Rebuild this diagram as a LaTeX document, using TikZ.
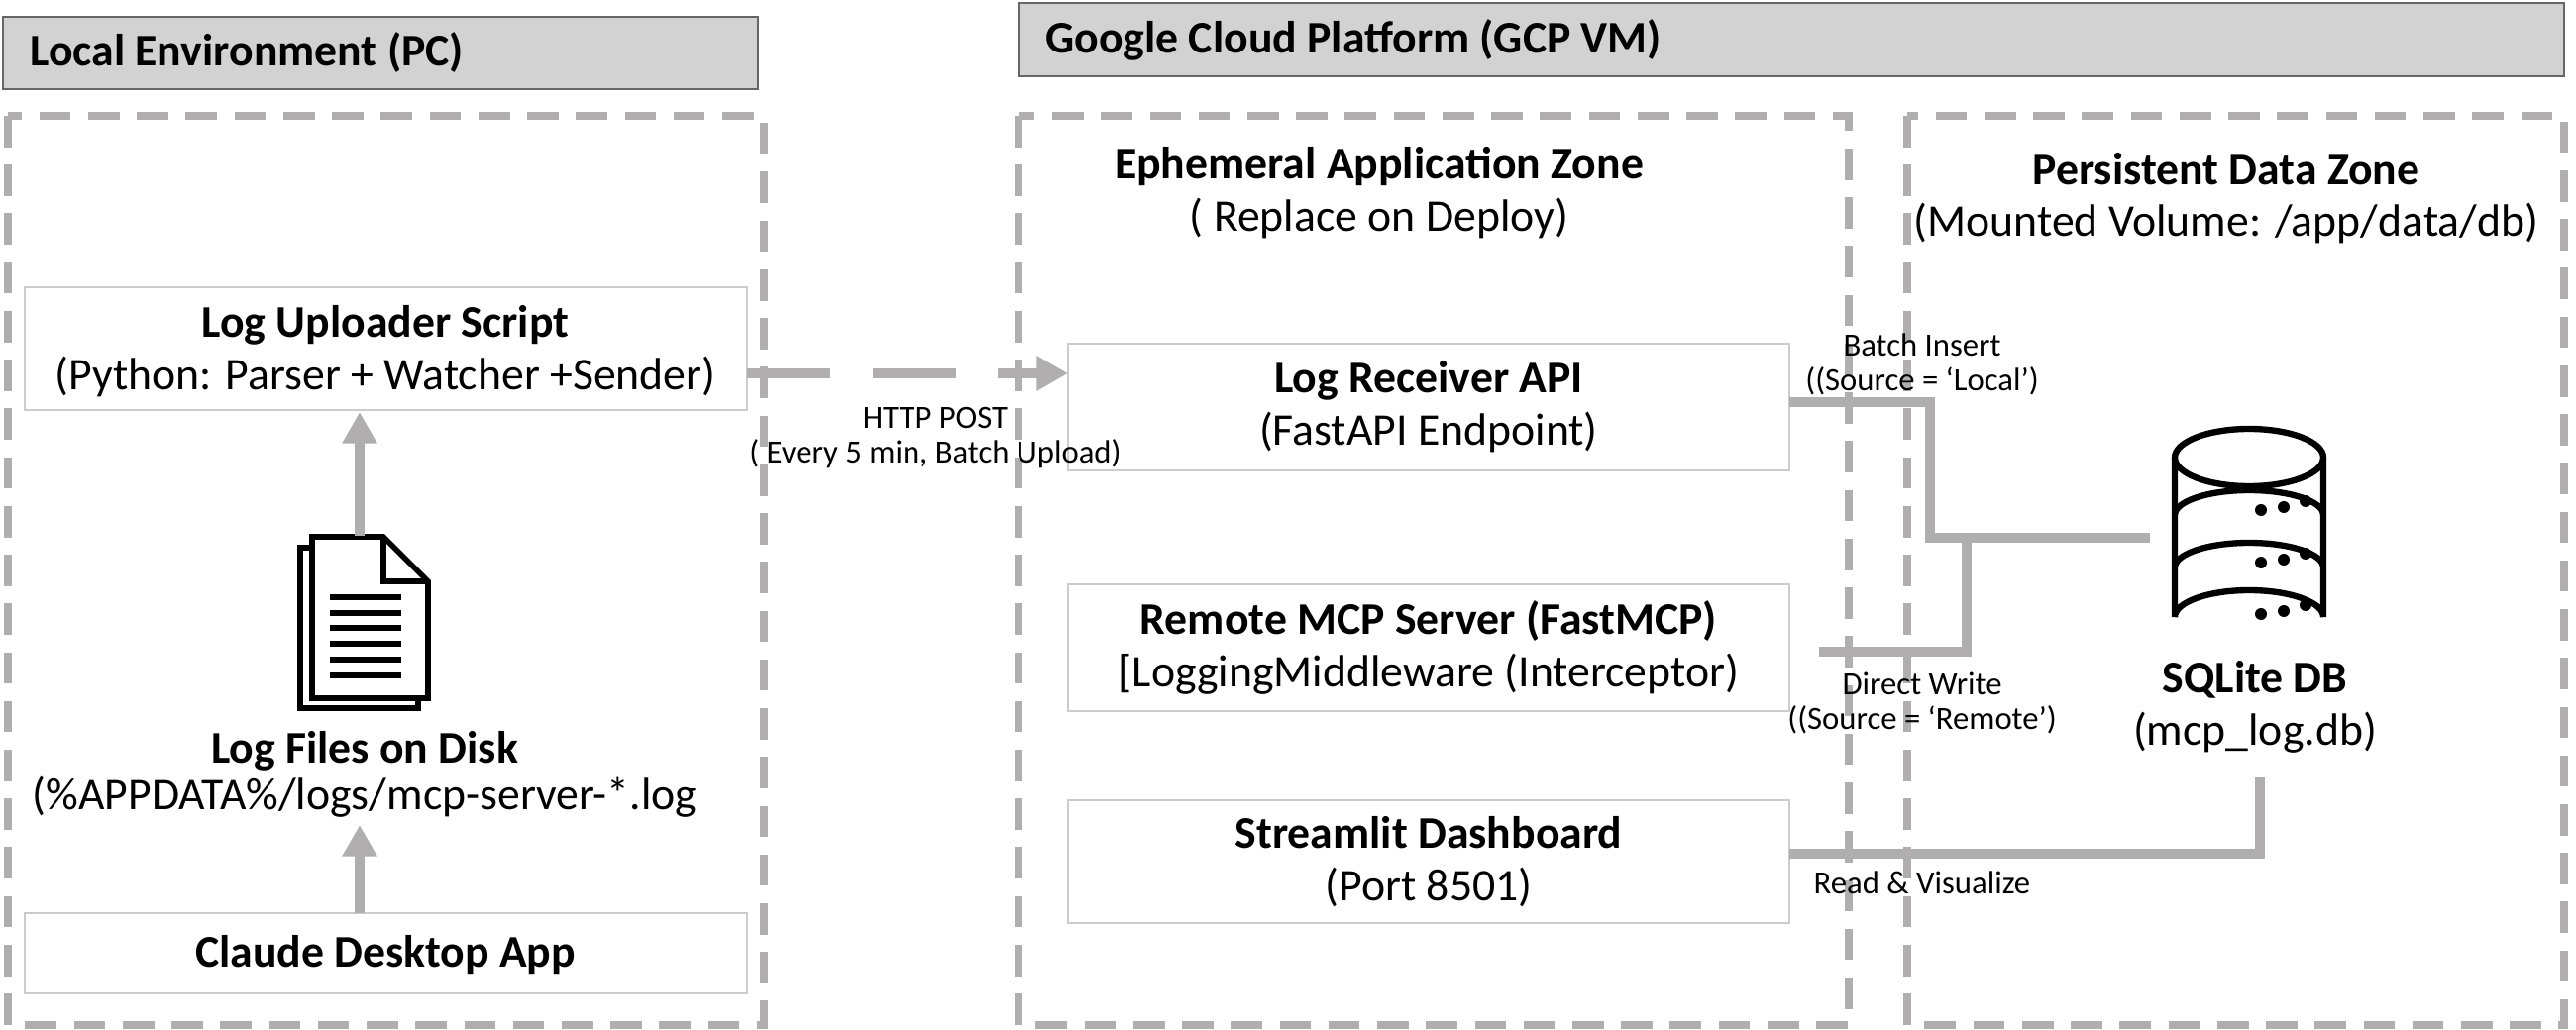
\documentclass[tikz,border=0pt]{standalone}
\usepackage{fontspec}
\setmainfont{Carlito}
\usetikzlibrary{arrows.meta,positioning}
\definecolor{linegray}{HTML}{B0AEAE}
\definecolor{headfill}{HTML}{D3D2D2}
\tikzset{
  head/.style={draw=gray!80!black, fill=headfill, line width=0.8pt},
  zone/.style={draw=linegray, dashed, line width=2.2pt, dash pattern=on 9pt off 5pt},
  comp/.style={draw=gray!40, line width=0.6pt, fill=white},
  title/.style={font=\fontsize{13}{15}\selectfont, align=center},
  small/.style={font=\fontsize{9.3}{11}\selectfont, align=center},
  flow/.style={draw=linegray, line width=2.8pt},
  flowarrow/.style={flow, -{Triangle[length=9pt,width=9.5pt]}},
}
\begin{document}
\begin{tikzpicture}[x=0.01cm, y=-0.01cm]
\useasboundingbox (0,0) rectangle (2600,1040);
% headers
\draw[head] (3,17) rectangle (765,90);
\node[title, anchor=west] (hdrpc) at (18,53) {\bfseries Local Environment (PC)};
\draw[head] (1028,3) rectangle (2588,77);
\node[title, anchor=west] (hdrgcp) at (1043,40) {\bfseries Google Cloud Platform (GCP VM)};
% zones
\draw[zone] (8,117) rectangle (771,1035);
\draw[zone] (1028,117) rectangle (1866,1035);
\draw[zone] (1925,117) rectangle (2588,1035);
\node[title] (ephem) at (1392,168) {\bfseries Ephemeral Application Zone};
\node[title] (ephemsub) at (1392,220) {( Replace on Deploy)};
\node[title] (persist) at (2247,171) {\bfseries Persistent Data Zone};
\node[title] (persistsub) at (2247,225) {(Mounted Volume: /app/data/db)};
% local components
\draw[comp] (25,290) rectangle (754,414);
\node[title] (uploader) at (389,355) {\bfseries Log Uploader Script\\(Python: Parser + Watcher +Sender)};
\draw[comp] (25,922) rectangle (754,1003);
\node[title] (claude) at (389,964) {\bfseries Claude Desktop App};
\node[title, font=\fontsize{13}{13.5}\selectfont] (logfiles) at (368,782) {\bfseries Log Files on Disk\\(\%APPDATA\%/logs/mcp-server-*.log};
% document icon
\draw[line width=1.6pt, fill=white] (315,553) -- (303,553) -- (303,715) -- (422,715) -- (422,705);
\draw[line width=1.6pt, fill=white] (315,542) -- (387,542) -- (432,587) -- (432,705) -- (315,705) -- cycle;
\draw[line width=1.6pt] (387,542) -- (387,587) -- (432,587);
\foreach \y in {603,619,634,650,666,682} \draw[line width=1.6pt] (333,\y) -- (405,\y);
% gcp components
\draw[comp] (1078,347) rectangle (1806,475);
\node[title] (receiver) at (1442,411) {\bfseries Log Receiver API\\(FastAPI Endpoint)};
\draw[comp] (1078,590) rectangle (1806,718);
\node[title] (mcp) at (1442,654) {\bfseries Remote MCP Server (FastMCP)\\{}[LoggingMiddleware (Interceptor)};
\draw[comp] (1078,808) rectangle (1806,932);
\node[title] (streamlit) at (1442,870) {\bfseries Streamlit Dashboard\\(Port 8501)};
% database icon
\begin{scope}[line width=1.8pt]
\draw (2195,462) -- (2195,623) arc[start angle=180, end angle=360, x radius=75, y radius=27] -- (2345,462);
\draw (2270,462) ellipse[x radius=75, y radius=29];
\draw (2195,520) arc[start angle=180, end angle=360, x radius=75, y radius=25];
\draw (2195,573) arc[start angle=180, end angle=360, x radius=75, y radius=25];
\foreach \y in {515,568,620}
  \foreach \dx/\dy in {12/0,35/-3,57/-9} \fill (2270+\dx,\y+\dy) circle (6);
\end{scope}
\node[title] (sqlite) at (2276,714) {\bfseries SQLite DB\\(mcp\_log.db)};
% connectors
\coordinate (upl-e) at (754,377);
\coordinate (rec-w) at (1078,377);
\draw[flowarrow, dash pattern=on 24pt off 12pt] (upl-e) -- (rec-w);
\node[small, font=\fontsize{9.3}{10}\selectfont] (httplbl) at (944,442) {HTTP POST\\( Every 5 min, Batch Upload)};
\draw[flowarrow] (363,541) -- (363,416);
\draw[flowarrow] (363,922) -- (363,833);
\coordinate (rec-e) at (1806,406);
\coordinate (mcp-e) at (1836,658);
\coordinate (str-e) at (1806,862);
\coordinate (db-w) at (2170,543);
\coordinate (db-s) at (2281,785);
\draw[flow] (rec-e) -| (1948,543) -- (db-w);
\draw[flow] (mcp-e) -| (1985,543);
\draw[flow] (str-e) -| (db-s);
\node[small, font=\fontsize{9.3}{10}\selectfont] (batchlbl) at (1940,368) {Batch Insert\\((Source = ‘Local’)};
\node[small, font=\fontsize{9.3}{10}\selectfont] (directlbl) at (1940,710) {Direct Write\\((Source = ‘Remote’)};
\node[small] (readlbl) at (1940,891) {Read \& Visualize};
\end{tikzpicture}
\end{document}
